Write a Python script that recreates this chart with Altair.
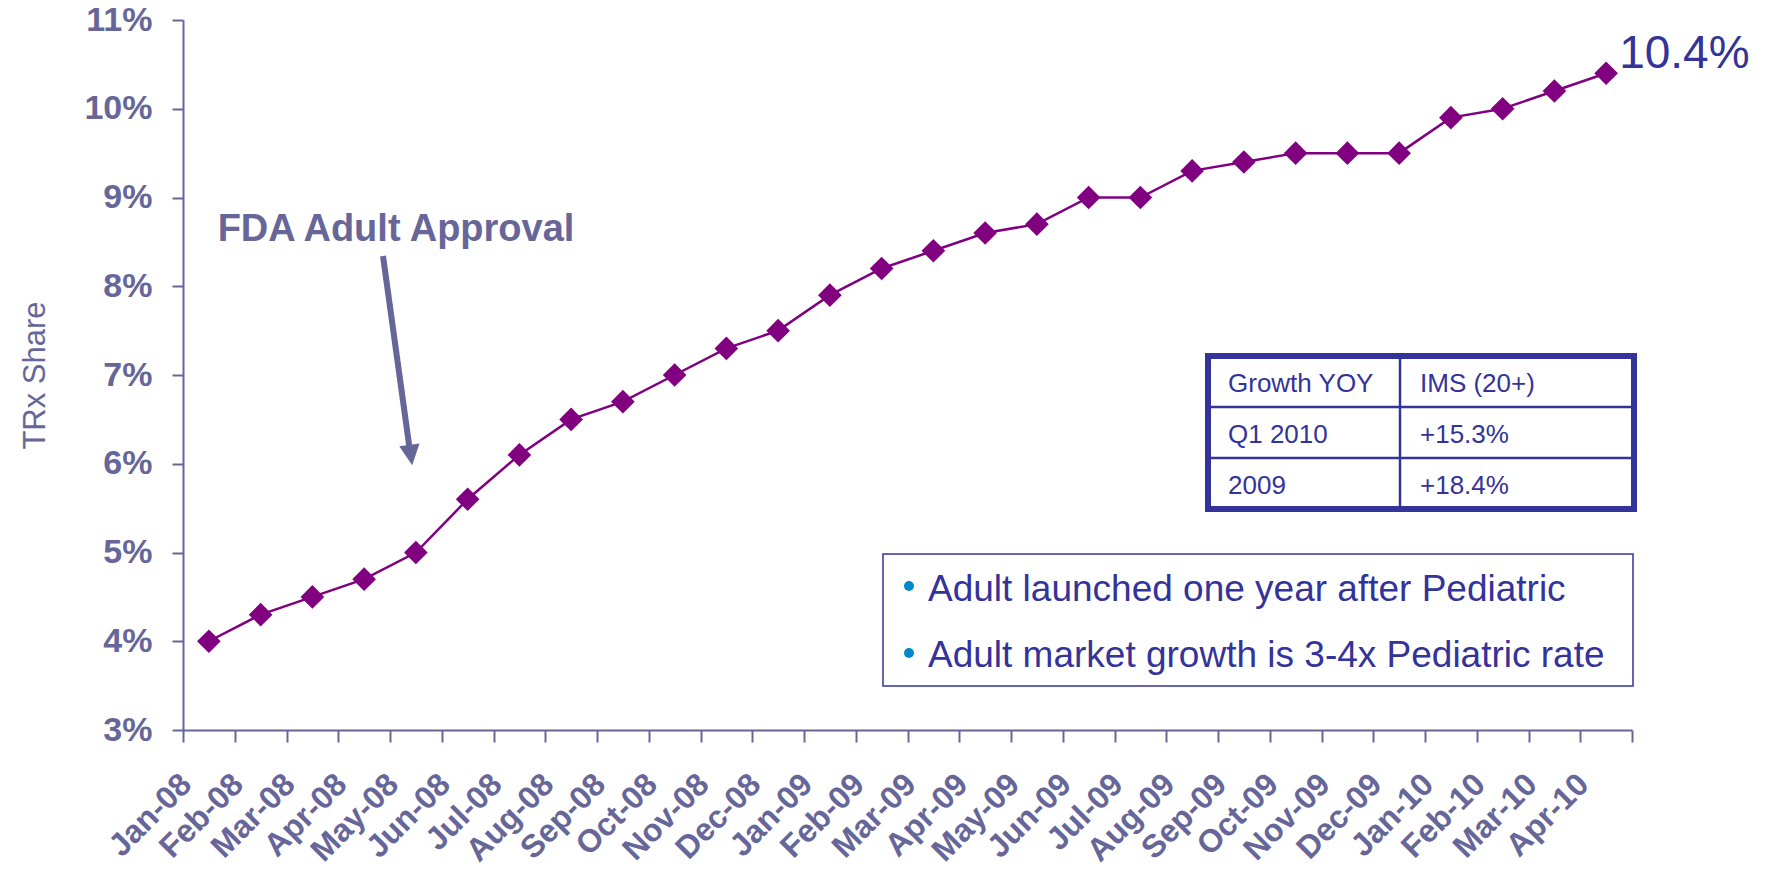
import altair as alt
import pandas as pd

months = ["Jan-08", "Feb-08", "Mar-08", "Apr-08", "May-08", "Jun-08", "Jul-08",
          "Aug-08", "Sep-08", "Oct-08", "Nov-08", "Dec-08", "Jan-09", "Feb-09",
          "Mar-09", "Apr-09", "May-09", "Jun-09", "Jul-09", "Aug-09", "Sep-09",
          "Oct-09", "Nov-09", "Dec-09", "Jan-10", "Feb-10", "Mar-10", "Apr-10"]
share_pct = [4.0, 4.3, 4.5, 4.7, 5.0, 5.6, 6.1, 6.5, 6.7, 7.0, 7.3, 7.5, 7.9, 8.2,
             8.4, 8.6, 8.7, 9.0, 9.0, 9.3, 9.4, 9.5, 9.5, 9.5, 9.9, 10.0, 10.2, 10.4]
y_ticks = [3, 4, 5, 6, 7, 8, 9, 10, 11]

table_header = ["Growth YOY", "IMS (20+)"]
table_rows = [["Q1 2010", "+15.3%"], ["2009", "+18.4%"]]
bullets = ["Adult launched one year after Pediatric",
           "Adult market growth is 3-4x Pediatric rate"]
annotation_text = "FDA Adult Approval"
end_label = "10.4%"

FONT = "Liberation Sans"
AXIS_C = "#666699"
LINE_C = "#800080"
NAVY = "#333399"
BULLET_C = "#0088CC"

# plot-area geometry
W, H = 1449, 710
PL, PT = 175, 12   # padding left/top (page margin 8 adds)
OX, OY = PL + 8, PT + 8  # plot origin in page pixels

def px(x):  # page pixel -> plot-area pixel
    return x - OX

def py(y):
    return y - OY

df = pd.DataFrame({"month": months, "share": [v / 100 for v in share_pct]})
df["label"] = ""
df.loc[df.index[-1], "label"] = end_label

x_enc = alt.X("month:N", sort=months, title=None,
              scale=alt.Scale(type="band", paddingInner=0, paddingOuter=0),
              axis=alt.Axis(labelAngle=315, labelAlign="right", labelBaseline="alphabetic",
                            labelFont=FONT, labelFontSize=32, labelFontWeight="bold",
                            labelColor=AXIS_C, labelPadding=44, labelOffset=-16,
                            labelOverlap=False, labelFlush=False, labelBound=False,
                            tickBand="extent", tickSize=12, tickWidth=2, tickColor=AXIS_C,
                            domainColor=AXIS_C, domainWidth=2, grid=False))
y_enc = alt.Y("share:Q", title="TRx Share",
              scale=alt.Scale(domain=[0.03, 0.11], nice=False, zero=False),
              axis=alt.Axis(values=[t / 100 for t in y_ticks], format=".0%",
                            labelFont=FONT, labelFontSize=34, labelFontWeight="bold",
                            labelColor=AXIS_C, labelPadding=20, labelBaseline="middle",
                            tickSize=11, tickWidth=2, tickColor=AXIS_C,
                            domainColor=AXIS_C, domainWidth=2, grid=False,
                            titleFont=FONT, titleFontSize=31, titleFontWeight="normal",
                            titleColor=AXIS_C, titleAngle=270, titleX=-148, titleY=H / 2,
                            titleAlign="center", titleBaseline="middle"))

base = alt.Chart(df)
line = base.mark_line(color=LINE_C, strokeWidth=2.5).encode(x=x_enc, y=y_enc)
points = base.mark_point(shape="diamond", filled=True, size=560, opacity=1,
                         color=LINE_C).encode(x=x_enc, y=y_enc)
end_text = base.transform_filter(alt.datum.label != "").mark_text(
    align="left", baseline="alphabetic", dx=13, dy=-5, font=FONT, fontSize=46,
    color=NAVY).encode(x=x_enc, y=y_enc, text="label:N")

# FDA annotation + arrow
fda = alt.Chart(pd.DataFrame({"t": [annotation_text]})).mark_text(
    font=FONT, fontSize=38, fontWeight="bold", color=AXIS_C,
    align="center", baseline="alphabetic").encode(
    x=alt.value(px(396)), y=alt.value(py(241)), text="t:N")
arrow_shaft = alt.Chart(pd.DataFrame({"a": [0]})).mark_rule(
    color=AXIS_C, strokeWidth=6).encode(
    x=alt.value(px(383)), y=alt.value(py(256)),
    x2=alt.value(px(409.5)), y2=alt.value(py(448)))
arrow_head = alt.Chart(pd.DataFrame({"a": [0]})).mark_point(
    shape="M-1,-1L1,-1L0,1Z", filled=True, size=420, opacity=1, color=AXIS_C,
    angle=352).encode(x=alt.value(px(410.8)), y=alt.value(py(455)))

# table
T_L, T_R, T_T, T_B = 1208, 1634, 356, 509
COL_X = 1400
ROW_Y = [407, 458]
table_frame = alt.Chart(pd.DataFrame({"a": [0]})).mark_rect(
    fill="white", stroke=NAVY, strokeWidth=6).encode(
    x=alt.value(px(T_L)), x2=alt.value(px(T_R)),
    y=alt.value(py(T_T)), y2=alt.value(py(T_B)))
grid_lines = pd.DataFrame({
    "x1": [px(COL_X)] + [px(T_L)] * len(ROW_Y),
    "x2": [px(COL_X)] + [px(T_R)] * len(ROW_Y),
    "y1": [py(T_T)] + [py(r) for r in ROW_Y],
    "y2": [py(T_B)] + [py(r) for r in ROW_Y],
})
table_grid = alt.Chart(grid_lines).mark_rule(color=NAVY, strokeWidth=2.5).encode(
    x=alt.X("x1:Q", scale=None, axis=None), x2="x2:Q",
    y=alt.Y("y1:Q", scale=None, axis=None), y2="y2:Q")
cells = []
all_rows = [table_header] + table_rows
base_y = [392, 443, 494]
col_x = [1228, 1420]
for r, row in enumerate(all_rows):
    for c, val in enumerate(row):
        cells.append({"t": val, "cx": px(col_x[c]), "cy": py(base_y[r])})
table_text = alt.Chart(pd.DataFrame(cells)).mark_text(
    font=FONT, fontSize=26, color=NAVY, align="left", baseline="alphabetic").encode(
    x=alt.X("cx:Q", scale=None, axis=None), y=alt.Y("cy:Q", scale=None, axis=None),
    text="t:N")

# bullet box
B_L, B_R, B_T, B_B = 883, 1633, 554, 686
box = alt.Chart(pd.DataFrame({"a": [0]})).mark_rect(
    fill="white", stroke=NAVY, strokeWidth=1.5).encode(
    x=alt.value(px(B_L)), x2=alt.value(px(B_R)),
    y=alt.value(py(B_T)), y2=alt.value(py(B_B)))
bullet_df = pd.DataFrame({"t": bullets,
                          "bx": [px(909)] * 2, "tx": [px(928)] * 2,
                          "dy": [py(586), py(653)], "ty": [py(601), py(667)]})
bullet_dots = alt.Chart(bullet_df).mark_point(
    shape="circle", filled=True, size=100, opacity=1, color=BULLET_C).encode(
    x=alt.X("bx:Q", scale=None, axis=None), y=alt.Y("dy:Q", scale=None, axis=None))
bullet_text = alt.Chart(bullet_df).mark_text(
    font=FONT, fontSize=37, color=NAVY, align="left", baseline="alphabetic").encode(
    x=alt.X("tx:Q", scale=None, axis=None), y=alt.Y("ty:Q", scale=None, axis=None),
    text="t:N")

chart = alt.layer(
    line, points, end_text, fda, arrow_shaft, arrow_head,
    table_frame, table_grid, table_text, box, bullet_dots, bullet_text
).properties(
    width=W, height=H,
    autosize=alt.AutoSizeParams(type="none"),
    padding={"left": PL, "top": PT, "right": 129, "bottom": 142},
    background="white",
).configure_view(stroke=None)

chart.save("out.html", embed_options={"renderer": "svg", "actions": False})
